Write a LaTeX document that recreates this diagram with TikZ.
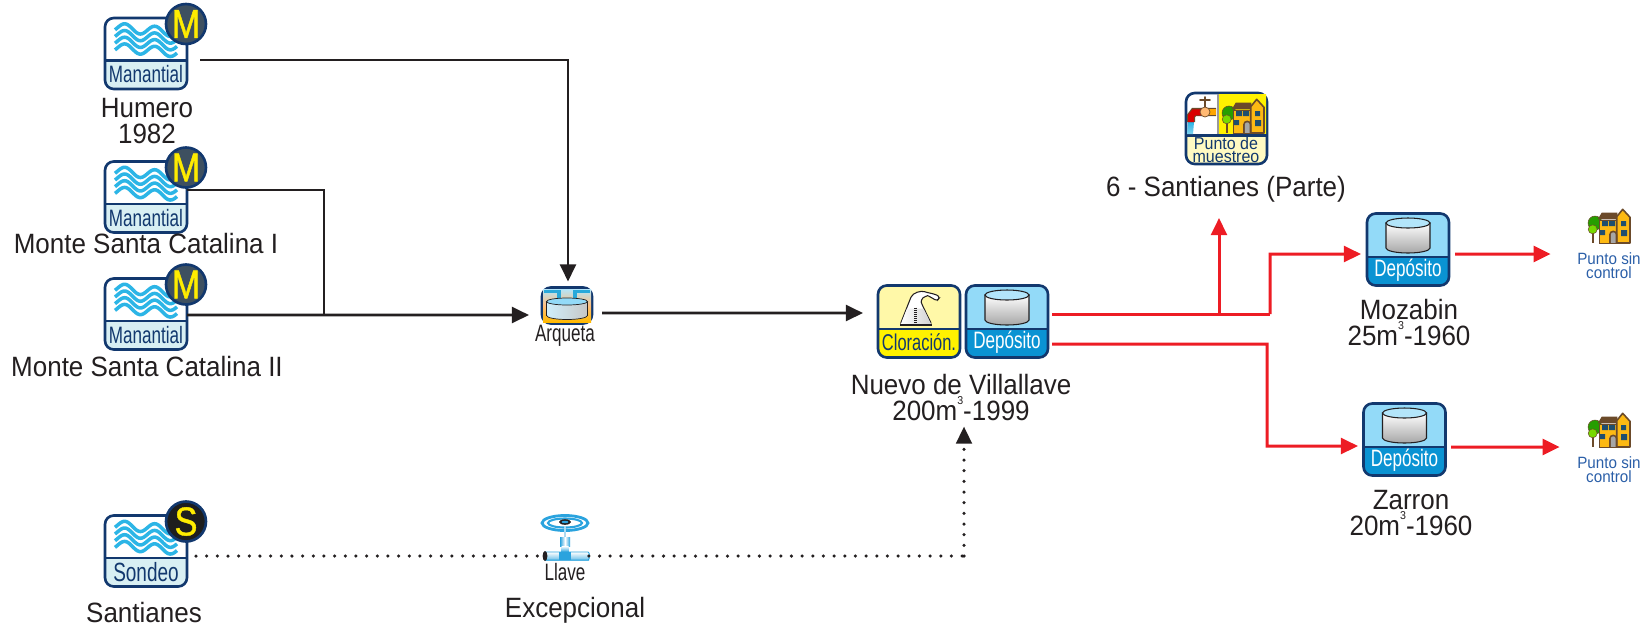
\documentclass[tikz,border=0pt]{standalone}
\usepackage{fontspec}
\usetikzlibrary{arrows.meta,calc}
\setmainfont{Liberation Sans}
\newfontfamily\lab[FakeStretch=0.93]{Liberation Sans}
\newfontfamily\ico[FakeStretch=0.72]{Liberation Sans}
\newfontfamily\bad[FakeStretch=0.85,FakeBold=1]{Liberation Sans}
\definecolor{navy}{HTML}{12386E}
\definecolor{txt}{HTML}{231F20}
\definecolor{wave}{HTML}{2CB5E6}
\definecolor{strip}{HTML}{D8EFF3}
\definecolor{slate}{HTML}{3E5060}
\definecolor{sblack}{HTML}{1E1E1E}
\definecolor{ybadge}{HTML}{FFEC00}
\definecolor{tanktop}{HTML}{93DAF8}
\definecolor{tanklow}{HTML}{0A93D3}
\definecolor{paley}{HTML}{FFF8A8}
\definecolor{brightY}{HTML}{FFF200}
\definecolor{redl}{HTML}{ED1C24}
\definecolor{ptext}{HTML}{2B5FA8}
\definecolor{hbrown}{HTML}{6B4A2A}
\definecolor{horange}{HTML}{FDB913}
\definecolor{hblue}{HTML}{1F4E6E}
\definecolor{valve}{HTML}{2AA3DE}
\tikzset{
  lbl/.style={font=\lab\fontsize{15.9}{14.8}\selectfont,text=txt,align=center,inner sep=0pt},
  icolabel/.style={font=\ico\fontsize{13.5}{13.5}\selectfont,inner sep=0pt},
  iconframe/.style={draw=navy,line width=1.5pt,rounded corners=5pt,inner sep=0pt,outer sep=0pt},
  flow/.style={line width=1.6pt,draw=txt,-{Triangle[length=9.7pt,width=9pt]}},
  flowline/.style={line width=1.6pt,draw=txt},
  redflow/.style={line width=1.7pt,draw=redl,-{Triangle[length=9.7pt,width=9pt]}},
  dotflow/.style={line width=2pt,draw=txt,line cap=round,dash pattern=on 0pt off 6.07pt},
  cyl/.style={draw=txt,line width=.6pt},
}
\newcommand\cube{\raisebox{.58em}{\fontsize{6.5}{6.5}\selectfont 3}}
% name, cx, cy, w, h, upper, lower, divider (relative)
\newcommand\iconbox[8]{%
  \begin{scope}
    \clip[rounded corners=5pt] ({#2-#4/2},{#3-#5/2}) rectangle ({#2+#4/2},{#3+#5/2});
    \fill[#6] ({#2-#4/2},{#3-#5/2}) rectangle ({#2+#4/2},{#3+#8});
    \fill[#7] ({#2-#4/2},{#3+#8}) rectangle ({#2+#4/2},{#3+#5/2});
  \end{scope}
  \draw[navy,line width=1.5pt] ({#2-#4/2},{#3+#8}) -- ({#2+#4/2},{#3+#8});
  \node[iconframe,minimum width={#4*0.02cm},minimum height={#5*0.02cm}] (#1) at (#2,#3) {};
}
% name, cx, cy, label, letter, badge colour, label size
\newcommand\source[7]{%
  \iconbox{#1}{#2}{#3}{82}{71}{white}{strip}{7}
  \begin{scope}[shift={(#2,#3)}]
    \foreach \k in {0,1,2,3}
      \draw[wave,line width=2pt] plot[domain=-31:31,samples=45,smooth]
        (\x,{-23.5+\k*6.7-4.5*cos((\x+21)*12)+0.08*\x});
    \node[icolabel,text=navy,font=\ico\fontsize{#7}{#7}\selectfont] at (0,21) {#4};
    \node[circle,draw=navy,line width=1.5pt,fill=#6,minimum size=0.8cm,inner sep=0pt,
      text=ybadge,font=\bad\fontsize{23}{23}\selectfont] at (40,-29.5) {#5};
  \end{scope}
}
% name, cx, cy
\newcommand\tankicon[3]{%
  \iconbox{#1}{#2}{#3}{82}{72}{tanktop}{tanklow}{7.5}
  \begin{scope}[shift={(#2,#3)}]
    \shade[top color=white,bottom color=black!35,cyl]
      (-22,-26.5) -- (-22,-1.5) arc[x radius=22,y radius=5,start angle=180,end angle=0]
      -- (22,-26.5) -- cycle;
    \draw[cyl,fill=tanktop!70] (0,-26.5) ellipse[x radius=22,y radius=5];
    \node[icolabel,text=white] at (0,21) {Depósito};
  \end{scope}
}
% cx, cy
\newcommand\houseart[2]{%
  \begin{scope}[shift={(#1,#2)},line join=round]
    \fill[hbrown] (-17,6) rectangle (-15,17);
    \fill[green!55!black!85!yellow,draw=hbrown,line width=.3pt] (-14,-3) circle[radius=7];
    \fill[green!45!yellow!85!black,draw=hbrown,line width=.3pt] (-16.3,3.3) circle[radius=4.5];
    \fill[horange,draw=hbrown,line width=.5pt] (-10,-6) rectangle (7.7,17);
    \fill[hbrown] (-11.3,-6.7) -- (-7.3,-13.3) -- (8.3,-13.3) -- (8.3,-6.7) -- cycle;
    \fill[horange,draw=hbrown,line width=.9pt] (7.7,17) -- (7.7,-9.3) -- (13.7,-16.7) -- (21,-8.7) -- (21,17) -- cycle;
    \fill[hblue] (-7,-5) rectangle (-1,0) (0,-5) rectangle (6,0) (-9,4) rectangle (-4,9)
      (12,-5) rectangle (17,0) (12,4) rectangle (18,10);
    \fill[hbrown] (0,17) -- (0,8.7) arc[radius=4.2,start angle=180,end angle=360] -- (8.4,17) -- cycle;
    \fill[black!35] (1.8,17) -- (1.8,8.7) arc[radius=2.4,start angle=180,end angle=360] -- (6.6,17) -- cycle;
    \draw[hbrown,line width=.5pt] (-10,17) -- (21,17);
  \end{scope}
}
\newcommand\puntosin[3]{%
  \node[minimum width=0.84cm,minimum height=0.72cm,inner sep=0pt] (#1) at (#2,#3) {};
  \houseart{#2}{#3}
  \node[font=\lab\fontsize{9.3}{8}\selectfont,text=ptext,align=center,inner sep=0pt] (#1t) at (#2,{#3+40}) {Punto sin\\control};
}
\begin{document}
\begin{tikzpicture}[x=0.02cm,y=-0.02cm]
\useasboundingbox (0,0) rectangle (1647,630);

\coordinate (j1) at (324,315);
\coordinate (j2) at (1270,314);
\coordinate (j3) at (1219,314);
\coordinate (j4) at (1270,254);
\coordinate (j5) at (1267,344);
\coordinate (j6) at (1267,446);
\coordinate (j7) at (964,556);
\coordinate (t1) at (1219,218);

% sources
\source{m1}{146}{53.5}{Manantial}{M}{slate}{13.5}
\source{m2}{146}{197}{Manantial}{M}{slate}{13.5}
\source{m3}{146}{314}{Manantial}{M}{slate}{13.5}
\source{sd}{146}{551}{Sondeo}{S}{sblack}{15}

\node[lbl] (humero) at (147,121) {Humero\\1982};
\node[lbl] (msc1) at (146,244) {Monte Santa Catalina I};
\node[lbl] (msc2) at (147,367) {Monte Santa Catalina II};
\node[lbl] (sant) at (144,613) {Santianes};
\node[lbl] (exc) at (575,610) {Excepcional};
\node[lbl] (nuevo) at (961,398) {Nuevo de Villallave\\200m\cube-1999};
\node[lbl] (moza) at (1409,323) {Mozabin\\25m\cube-1960};
\node[lbl] (zarr) at (1411,513) {Zarron\\20m\cube-1960};
\node[lbl] (parte) at (1226,189) {6 - Santianes (Parte)};

% arqueta
\iconbox{arq}{567}{305.5}{50}{36}{tanktop!60}{orange!65!yellow}{4}
\shade[top color=tanktop!70,bottom color=orange!55!yellow,middle color=white!50!orange] (543,289) rectangle (591,322);
\begin{scope}[shift={(567,305.5)}]
  \draw[wave!90!navy,line width=1.8pt] (-23,-14) -- (-8,-14) -- (-8,-7) (23,-14) -- (8,-14) -- (8,-7);
  \shade[left color=tanktop!45,right color=black!22,draw=txt,line width=.4pt]
    (-20.5,-4) -- (-20.5,10) arc[x radius=20.5,y radius=4,start angle=180,end angle=0]
    -- (20.5,-4) -- cycle;
  \draw[draw=txt,line width=.4pt,fill=tanktop] (0,-4) ellipse[x radius=20.5,y radius=3.5];
\end{scope}
\node[icolabel,text=txt] (arqt) at (565,336) {Arqueta};

% cloracion + deposito
\iconbox{cl}{919}{321.5}{82}{72}{paley}{brightY}{7.5}
\begin{scope}[shift={(919,321.5)}]
  \draw[txt,line width=.6pt,fill=white,rounded corners=1.5pt]
    (-19,3.5) -- (-9,-22) .. controls (-6,-29) and (2,-31) .. (8,-29)
    .. controls (13,-28) and (17,-27) .. (21,-24.5) -- (18,-20.5)
    .. controls (14,-23) and (9,-26) .. (6,-25) .. controls (3,-23) and (2,-20) .. (3,-17) -- (13,3.5) -- cycle;
  \shade[left color=white,right color=black!18] (-12,-13) -- (4.5,-13) -- (12.3,3) -- (-18.3,3) -- cycle;
  \draw[txt,line width=.6pt] (-19,3.5) -- (13,3.5);
  \draw[txt,line width=1.6pt,dash pattern=on .6pt off .6pt] (-3.5,-14) -- (-3.5,2);
  \node[icolabel,text=navy,font=\ico\fontsize{13}{13}\selectfont] at (0,21) {Cloración.};
\end{scope}
\tankicon{dep}{1007}{321.5}
\tankicon{tm}{1408}{249.5}
\tankicon{tz}{1404.5}{439.5}

% punto de muestreo
\iconbox{pm}{1226.5}{128.5}{81}{71}{white}{paley!70}{7}
\begin{scope}
  \clip (1218,94) rectangle (1266,135);
  \fill[brightY] (1218,93) rectangle (1267,135);
\end{scope}
\draw[black!40,line width=.6pt] (1218,94) -- (1218,135);
\houseart{1243}{116}
\draw[navy,line width=1.5pt] (1186,135.5) -- (1267,135.5);
\begin{scope}[line cap=round]
  \shade[top color=wave,bottom color=wave!60] (1188,122) -- (1194,122) -- (1193,134) -- (1187,134) -- cycle;
  \draw[hbrown,line width=1pt] (1205,97) -- (1205,108) (1200,100) -- (1210,100);
  \draw[hbrown,line width=4.6pt,line cap=butt] (1191,122) -- (1191,116) -- (1194,112) -- (1216,112);
  \draw[red!85!black,line width=3.4pt,line cap=butt] (1191,122) -- (1191,116) -- (1194,112.3) -- (1203,112.3);
  \draw[orange!70!yellow,line width=3.4pt,line cap=butt] (1203,112.3) -- (1215.5,112.3);
  \fill[orange!55!white,draw=hbrown,line width=.4pt] (1205,112) circle[radius=5];
\end{scope}
\node[font=\lab\fontsize{9.8}{7.5}\selectfont,text=navy,align=center,inner sep=0pt] (pmt) at (1226,150) {Punto de\\muestreo};

% punto sin control
\puntosin{h1}{1609}{226}
\puntosin{h2}{1609}{430}

% valve
\node[minimum width=0.9cm,minimum height=0.8cm,inner sep=0pt] (vl) at (566,540) {};
\draw[valve,line width=1.6pt,fill=white] (565,523) ellipse[x radius=23,y radius=7.5];
\draw[valve,line width=1.2pt] (565,523) ellipse[x radius=17,y radius=4.5];
\draw[valve!40,line width=1.4pt] (565,526) -- (565,540);
\shade[left color=valve,right color=valve,middle color=white] (560,537) rectangle (570,546);
\shade[top color=white,bottom color=valve] (561.5,546) rectangle (568.5,552);
\shade[top color=white,bottom color=valve!70] (545,552) rectangle (589,560);
\fill[valve] (559,552) rectangle (571,560);
\draw[valve,line width=.5pt] (545,552) -- (588,552) arc[x radius=1.5,y radius=4,start angle=-90,end angle=90] -- (545,560);
\fill[txt] (545,556) ellipse[x radius=2.4,y radius=5];
\fill[txt] (565,522) ellipse[x radius=6,y radius=2.8];
\fill[valve] (565,522) ellipse[x radius=3.5,y radius=1.2];
\node[icolabel,text=txt] (llt) at (565,572) {Llave};

% flows
\draw[flow] ([shift={(13,6.5)}]m1.east) -| ([shift={(1,-6)}]arq.north);
\draw[flowline] ([shift={(0,-7)}]m2.east) -| (j1);
\draw[flow] ([shift={(0,1)}]m3.east) -- ([shift={(-13,9.5)}]arq.west);
\draw[flow] ([shift={(10,7.5)}]arq.east) -- ([shift={(-15,-8.5)}]cl.west);
\draw[redl,line width=1.7pt] ([shift={(4,-7.5)}]dep.east) -- (j2);
\draw[redflow] (j2) -- (j4) -- ([shift={(-6,4.5)}]tm.west);
\draw[redflow] (j3) -- (t1);
\draw[redflow] ([shift={(4,22.5)}]dep.east) -- (j5) -- (j6) -- ([shift={(-5.5,6.5)}]tz.west);
\draw[redflow] ([shift={(6,4.5)}]tm.east) -- ([shift={(-37,28)}]h1.west);
\draw[redflow] ([shift={(5.5,7.5)}]tz.east) -- ([shift={(-28,17)}]h2.west);
\draw[dotflow] ([shift={(9,5)}]sd.east) -- (vl.west |- j7);
\draw[dotflow] (vl.east |- j7) -- (j7);
\draw[dotflow] (j7) -- ([shift={(3,17)}]nuevo.south);
\draw[-{Triangle[length=9.7pt,width=9pt]},line width=1.4pt,draw=txt] ([shift={(3,17)}]nuevo.south) -- ([shift={(3,5)}]nuevo.south);
\end{tikzpicture}
\end{document}
